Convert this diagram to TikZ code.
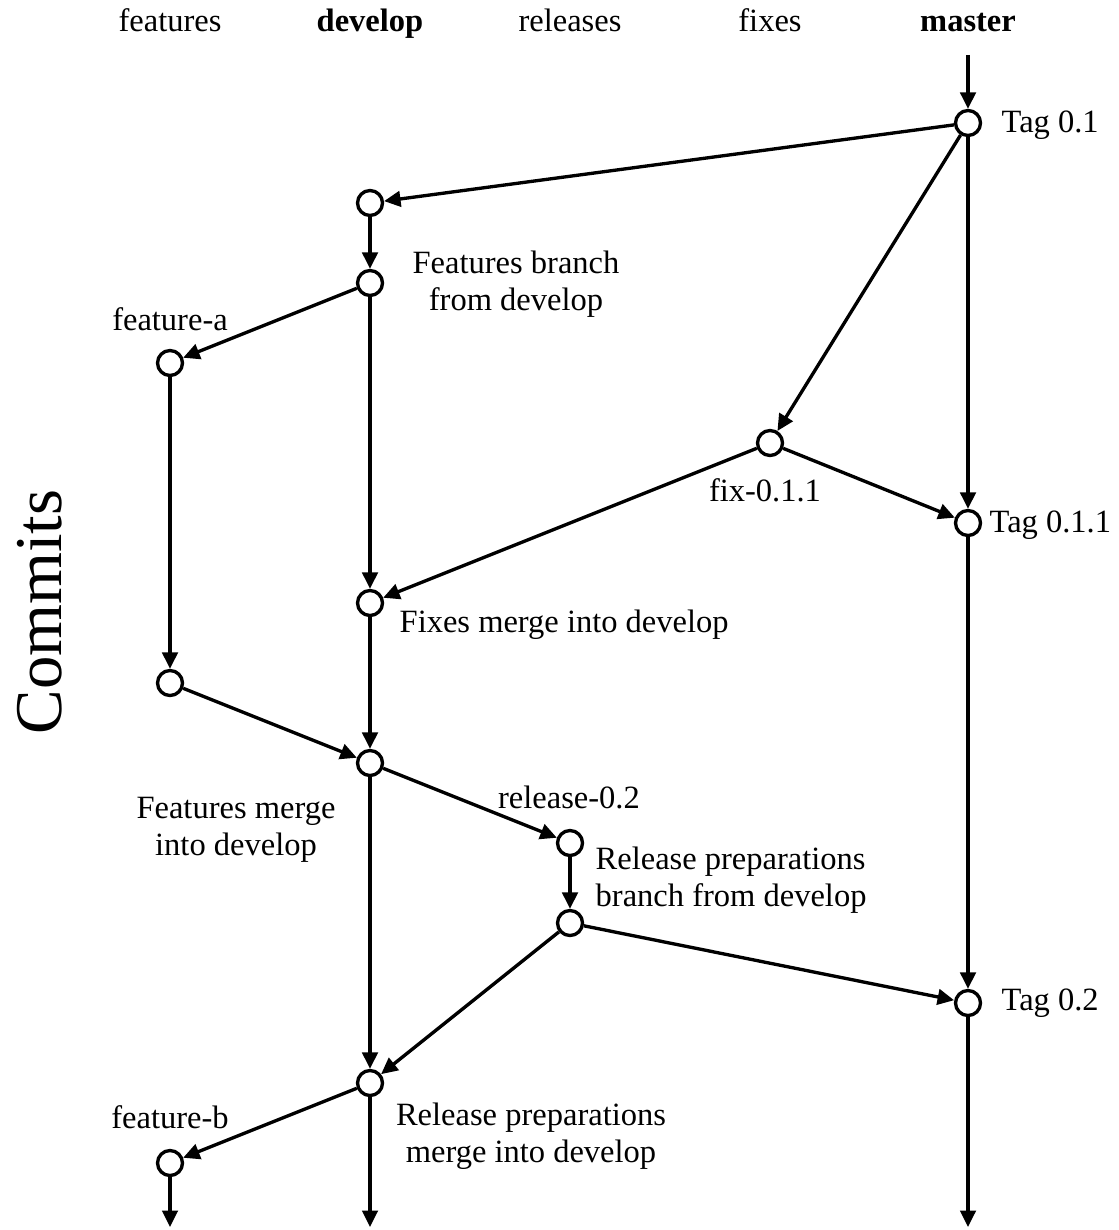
\documentclass[tikz,border=0pt]{standalone}
\usepackage{fontspec}
\setmainfont{Liberation Serif}
\usetikzlibrary{arrows.meta}

\begin{document}
\begin{tikzpicture}[x=0.2mm,y=-0.2mm,line width=1.9pt,
  >={Triangle[length=3.3mm,width=3.1mm]},
  commit/.style={circle,draw,fill=white,inner sep=0pt,minimum size=5mm},
  txt/.style={font=\fontsize{18.5}{21}\selectfont,inner sep=0pt,align=center}]
  \useasboundingbox (0,0) rectangle (1119,1230);

  % branch names
  \node[txt,anchor=base] (hfeat) at (170,32) {features};
  \node[txt,anchor=base,font=\fontsize{18.5}{21}\selectfont\bfseries] (hdev) at (370,32) {develop};
  \node[txt,anchor=base] (hrel) at (570,32) {releases};
  \node[txt,anchor=base] (hfix) at (770,32) {fixes};
  \node[txt,anchor=base,font=\fontsize{18.5}{21}\selectfont\bfseries] (hmaster) at (968,32) {master};
  \node[rotate=90,inner sep=0pt,font=\fontsize{38}{40}\selectfont] (commits) at (40,612) {Commits};

  % commits
  \node[commit] (m1) at (968,123) {};
  \node[commit] (d1) at (370,203) {};
  \node[commit] (d2) at (370,283) {};
  \node[commit] (fa1) at (170,363) {};
  \node[commit] (fx1) at (770,443) {};
  \node[commit] (m2) at (968,523) {};
  \node[commit] (d3) at (370,603) {};
  \node[commit] (fa2) at (170,683) {};
  \node[commit] (d4) at (370,763) {};
  \node[commit] (r1) at (570,843) {};
  \node[commit] (r2) at (570,923) {};
  \node[commit] (m3) at (968,1003) {};
  \node[commit] (d5) at (370,1083) {};
  \node[commit] (fb1) at (170,1163) {};

  \coordinate (mtop) at (968,55);
  \coordinate (fbend) at (170,1227);
  \coordinate (dend) at (370,1227);
  \coordinate (mend) at (968,1227);

  % labels
  \node[txt,anchor=west] (lm1) at (1000,125) {Tag 0.1};
  \node[txt] (ld2) at (516,284) {Features branch\\from develop};
  \node[txt] (lfa1) at (170,319) {feature-a};
  \node[txt] (lfx1) at (765,490) {fix-0.1.1};
  \node[txt,anchor=west] (lm2) at (988,525) {Tag 0.1.1};
  \node[txt,anchor=west] (ld3) at (398,625) {Fixes merge into develop};
  \node[txt] (ld4) at (236,830) {Features merge\\into develop};
  \node[txt] (lr1) at (569,797) {release-0.2};
  \node[txt,anchor=west,align=left] (lr2) at (594,880) {Release preparations\\branch from develop};
  \node[txt,anchor=west] (lm3) at (1000,1003) {Tag 0.2};
  \node[txt] (ld5) at (531,1136) {Release preparations\\merge into develop};
  \node[txt] (lfb1) at (170,1117) {feature-b};

  % history
  \draw[->] (mtop) -- (m1);
  \draw[->] (m1) -- (d1);
  \draw[->] (m1) -- (fx1);
  \draw[->] (m1) -- (m2);
  \draw[->] (d1) -- (d2);
  \draw[->] (d2) -- (fa1);
  \draw[->] (d2) -- (d3);
  \draw[->] (fa1) -- (fa2);
  \draw[->] (fx1) -- (m2);
  \draw[->] (fx1) -- (d3);
  \draw[->] (fa2) -- (d4);
  \draw[->] (d3) -- (d4);
  \draw[->] (d4) -- (r1);
  \draw[->] (d4) -- (d5);
  \draw[->] (r1) -- (r2);
  \draw[->] (r2) -- (m3);
  \draw[->] (r2) -- (d5);
  \draw[->] (m2) -- (m3);
  \draw[->] (d5) -- (fb1);
  \draw[->] (fb1) -- (fbend);
  \draw[->] (d5) -- (dend);
  \draw[->] (m3) -- (mend);
\end{tikzpicture}
\end{document}
